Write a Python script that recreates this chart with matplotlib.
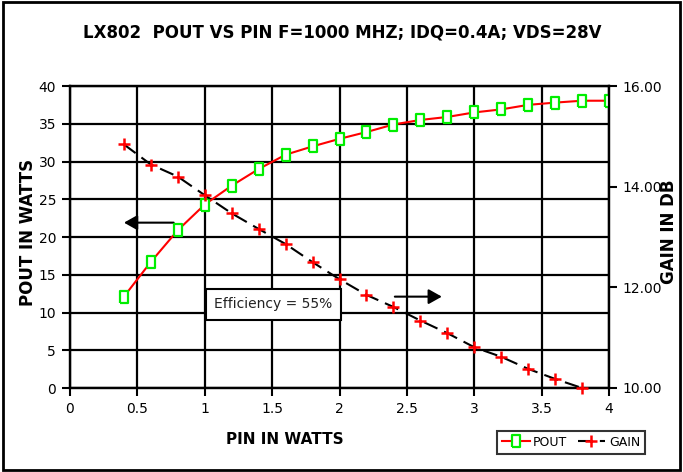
import matplotlib
matplotlib.use('Agg')
import matplotlib.pyplot as plt
from matplotlib.patches import Rectangle

# data
pin = [0.4, 0.6, 0.8, 1.0, 1.2, 1.4, 1.6, 1.8, 2.0, 2.2, 2.4, 2.6, 2.8, 3.0,
       3.2, 3.4, 3.6, 3.8, 4.0]
pout = [12.1, 16.7, 20.9, 24.3, 26.8, 29.0, 30.9, 32.0, 33.0, 33.9, 34.9, 35.5,
        35.9, 36.5, 36.9, 37.5, 37.8, 38.05, 38.05]
pin_gain = [0.4, 0.6, 0.8, 1.0, 1.2, 1.4, 1.6, 1.8, 2.0, 2.2, 2.4, 2.6, 2.8,
            3.0, 3.2, 3.4, 3.6, 3.8]
gain = [14.84, 14.44, 14.20, 13.83, 13.47, 13.16, 12.86, 12.50, 12.16, 11.85,
        11.61, 11.34, 11.09, 10.81, 10.62, 10.38, 10.18, 10.0]

x_ticks = [0, 0.5, 1, 1.5, 2, 2.5, 3, 3.5, 4]
x_labels = ['0', '0.5', '1', '1.5', '2', '2.5', '3', '3.5', '4']
pout_ticks = [0, 5, 10, 15, 20, 25, 30, 35, 40]
gain_ticks = [10, 12, 14, 16]
gain_labels = ['10.00', '12.00', '14.00', '16.00']

plt.rcParams['font.family'] = ['DejaVu Sans']

fig = plt.figure(figsize=(6.83, 4.72), dpi=100)
ax = fig.add_axes([70 / 683, 1 - 388 / 472, 539 / 683, 302 / 472])
ax2 = ax.twinx()

ax.set_xlim(0, 4)
ax.set_ylim(0, 40)
ax2.set_ylim(10, 16)

ax.set_xticks(x_ticks)
ax.set_xticklabels(x_labels, fontsize=10)
ax.set_yticks(pout_ticks)
ax.set_yticklabels([str(t) for t in pout_ticks], fontsize=10)
ax2.set_yticks(gain_ticks)
ax2.set_yticklabels(gain_labels, fontsize=10)

ax.grid(True, color='black', linewidth=1.6)
ax.set_axisbelow(True)
for a in (ax, ax2):
    for s in a.spines.values():
        s.set_linewidth(1.6)
    a.tick_params(length=6, width=1.5, direction='out', pad=4)

# tall narrow box marker like the original
box = [(-0.35, -0.5), (0.35, -0.5), (0.35, 0.5), (-0.35, 0.5), (-0.35, -0.5)]
line_pout, = ax.plot(pin, pout, color='red', linewidth=1.5, marker=box,
                     markersize=8, markerfacecolor='white',
                     markeredgecolor='#00ee00', markeredgewidth=1.6,
                     label='POUT', zorder=4)
line_gain, = ax2.plot(pin_gain, gain, color='black', linewidth=1.5,
                      linestyle=(0, (7, 3.5)), marker='+', markersize=8,
                      markeredgecolor='red', markeredgewidth=1.8,
                      label='GAIN', clip_on=False, zorder=4)

# arrows pointing at the axes
ax.annotate('', xy=(0.38, 21.9), xytext=(0.79, 21.9),
            arrowprops=dict(arrowstyle='-|>,head_length=0.8,head_width=0.45',
                            color='black', lw=1.5))
ax.annotate('', xy=(2.78, 12.1), xytext=(2.39, 12.1),
            arrowprops=dict(arrowstyle='-|>,head_length=0.8,head_width=0.45',
                            color='black', lw=1.5))

ax.text(1.51, 11.1, 'Efficiency = 55%', fontsize=10, ha='center', va='center',
        color='#222222', zorder=6,
        bbox=dict(boxstyle='square,pad=0.6', facecolor='white',
                  edgecolor='black', linewidth=1.5))

fig.text(0.5 * (70 + 609) / 683 - 0.08, 1 - 440 / 472, 'PIN IN WATTS',
         ha='center', va='center', fontsize=11, fontweight='bold')
fig.text(28 / 683, 1 - 232 / 472, 'POUT IN WATTS', rotation=90,
         ha='center', va='center', fontsize=12, fontweight='bold')
fig.text(669 / 683, 1 - 232 / 472, 'GAIN IN DB', rotation=90,
         ha='center', va='center', fontsize=12, fontweight='bold')
fig.text(342 / 683, 1 - 32 / 472,
         'LX802  POUT VS PIN F=1000 MHZ; IDQ=0.4A; VDS=28V',
         ha='center', va='center', fontsize=12, fontweight='bold')

leg = fig.legend(handles=[line_pout, line_gain], loc='center',
                 bbox_to_anchor=(571 / 683, 1 - 442 / 472), ncol=2,
                 fontsize=9, frameon=True, fancybox=False, handlelength=2.2,
                 columnspacing=0.8, handletextpad=0.3, borderpad=0.4)
leg.get_frame().set_edgecolor('black')
leg.get_frame().set_linewidth(1.5)

fig.patches.append(Rectangle((0.004, 0.004), 0.992, 0.992, fill=False,
                             edgecolor='black', linewidth=2,
                             transform=fig.transFigure))

fig.savefig('out.png', dpi=100)
